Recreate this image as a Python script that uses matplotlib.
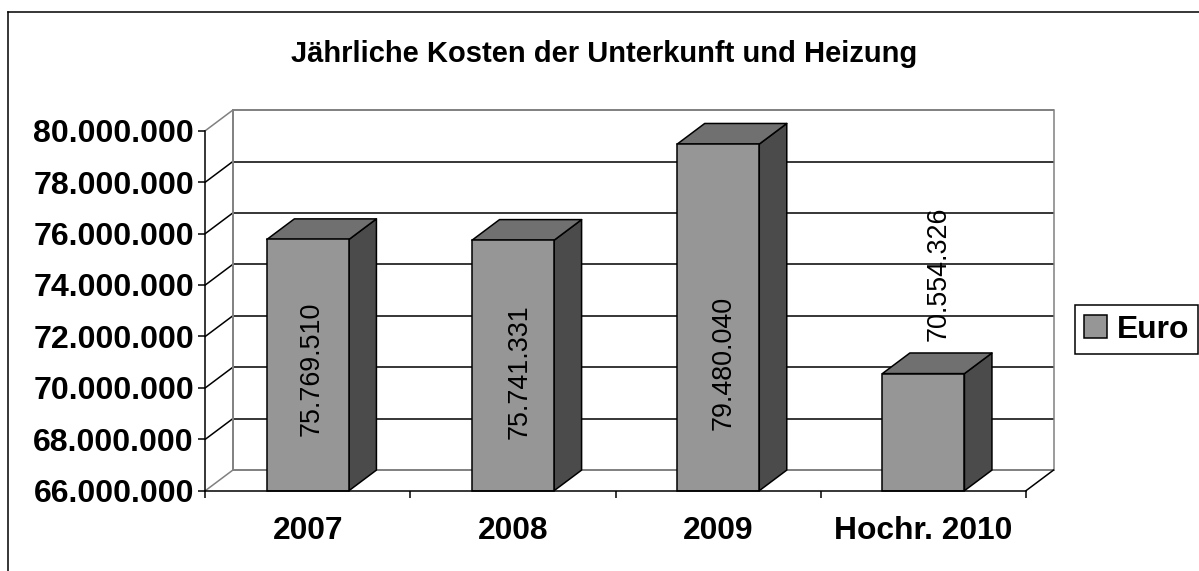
import matplotlib
matplotlib.use("Agg")
import matplotlib.pyplot as plt
from matplotlib.lines import Line2D
from matplotlib.patches import Patch, Polygon

plt.rcParams['font.family'] = ['Liberation Sans', 'DejaVu Sans']

categories = ['2007', '2008', '2009', 'Hochr. 2010']
euro = [75769510, 75741331, 79480040, 70554326]
y_ticks = [66000000, 68000000, 70000000, 72000000, 74000000, 76000000, 78000000, 80000000]
title = 'Jährliche Kosten der Unterkunft und Heizung'
series_name = 'Euro'

# layout (pixels)
W, H = 1199, 571
AX_L, AX_R, AX_T, AX_B = 205.3, 1026.0, 130.7, 490.7
DEPTH_X, DEPTH_Y = 27.5, 20.6
LABEL_OFFSETS = [(4, -129), (7, -131), (5, -218.6), (15, 100)]
LW = 1.1
FRONT, TOP, SIDE, WALL = '#969696', '#707070', '#4b4b4b', '#808080'


def fmt(v):
    return f'{v:,}'.replace(',', '.')


fig = plt.figure(figsize=(W / 100, H / 100), dpi=100, facecolor='white')
ax = fig.add_axes([AX_L / W, 1 - AX_B / H, (AX_R - AX_L) / W, (AX_B - AX_T) / H])
ax.set_xlim(0, len(categories))
ax.set_ylim(y_ticks[0], y_ticks[-1])
ax.patch.set_alpha(0)
dx = DEPTH_X * len(categories) / (AX_R - AX_L)
dy = DEPTH_Y * (y_ticks[-1] - y_ticks[0]) / (AX_B - AX_T)
n = len(categories)
y0, y1 = y_ticks[0], y_ticks[-1]

# walls and gridlines
for v in y_ticks:
    edge = v in (y0, y1)
    col = WALL if edge else 'black'
    ax.plot([dx, n + dx], [v + dy, v + dy], color=col, lw=LW + (0.3 if edge else 0), clip_on=False, zorder=1,
            solid_capstyle='butt')
    ax.plot([0, dx], [v, v + dy], color=col, lw=LW, clip_on=False, zorder=1)
ax.plot([dx, dx], [y0 + dy, y1 + dy], color=WALL, lw=LW + 0.3, clip_on=False, zorder=1.5)
ax.plot([n + dx, n + dx], [y0 + dy, y1 + dy], color=WALL, lw=LW, clip_on=False, zorder=1.5)
ax.plot([n, n + dx], [y0, y0 + dy], color='black', lw=LW, clip_on=False, zorder=1.5)

# bars
positions = [i + 0.5 for i in range(n)]
bw = 0.4
for x, v in zip(positions, euro):
    l, r = x - bw / 2, x + bw / 2
    ax.add_patch(Polygon([(r, y0), (r + dx, y0 + dy), (r + dx, v + dy), (r, v)], closed=True,
                         facecolor=SIDE, edgecolor='black', lw=LW, clip_on=False, zorder=3, joinstyle='round'))
    ax.add_patch(Polygon([(l, v), (r, v), (r + dx, v + dy), (l + dx, v + dy)], closed=True,
                         facecolor=TOP, edgecolor='black', lw=LW, clip_on=False, zorder=3, joinstyle='round'))
ax.bar(positions, [v - y0 for v in euro], bottom=y0, width=bw, color=FRONT, edgecolor='black',
       linewidth=LW, zorder=4, clip_on=False)

# data labels
for x, v, off in zip(positions, euro, LABEL_OFFSETS):
    ax.annotate(fmt(v), (x, v), xytext=(off[0] * 0.72, off[1] * 0.72), textcoords='offset points',
                rotation=90, ha='center', va='center', fontsize=19.4, color='black', zorder=6,
                annotation_clip=False)

# axes
for s in ('top', 'right'):
    ax.spines[s].set_visible(False)
for s in ('left', 'bottom'):
    ax.spines[s].set_linewidth(LW)
    ax.spines[s].set_zorder(5)
ax.set_yticks(y_ticks)
ax.set_yticklabels([fmt(v) for v in y_ticks], fontsize=23.1, fontweight='bold')
ax.tick_params(axis='y', length=5.2, width=LW, pad=3)
ax.set_xticks(range(n + 1))
ax.set_xticklabels([])
ax.set_xticks(positions, minor=True)
ax.set_xticklabels(categories, minor=True, fontsize=22.9, fontweight='bold')
ax.tick_params(axis='x', which='major', length=5.2, width=LW)
ax.tick_params(axis='x', which='minor', length=0, pad=18.5)

# title
fig.text(604.5 / W, 1 - 53.5 / H, title, ha='center', va='center', fontsize=21, fontweight='bold')

# legend
leg = fig.legend(handles=[Patch(facecolor=FRONT, edgecolor='black', lw=LW, label=series_name)],
                 loc='center', bbox_to_anchor=(1136.5 / W, 1 - 329.7 / H), fontsize=22.9,
                 prop={'weight': 'bold', 'size': 22.9}, fancybox=False, framealpha=1, edgecolor='black',
                 handlelength=0.72, handleheight=0.72, handletextpad=0.3, borderpad=0.3, borderaxespad=0)
leg.get_frame().set_linewidth(LW)

# chart frame
fig.add_artist(Line2D([8 / W, 8 / W], [0, 1 - 11.5 / H], color='black', lw=LW))
fig.add_artist(Line2D([8 / W, 1], [1 - 11.5 / H, 1 - 11.5 / H], color='black', lw=LW))

fig.savefig('out.png', dpi=100, facecolor='white')
